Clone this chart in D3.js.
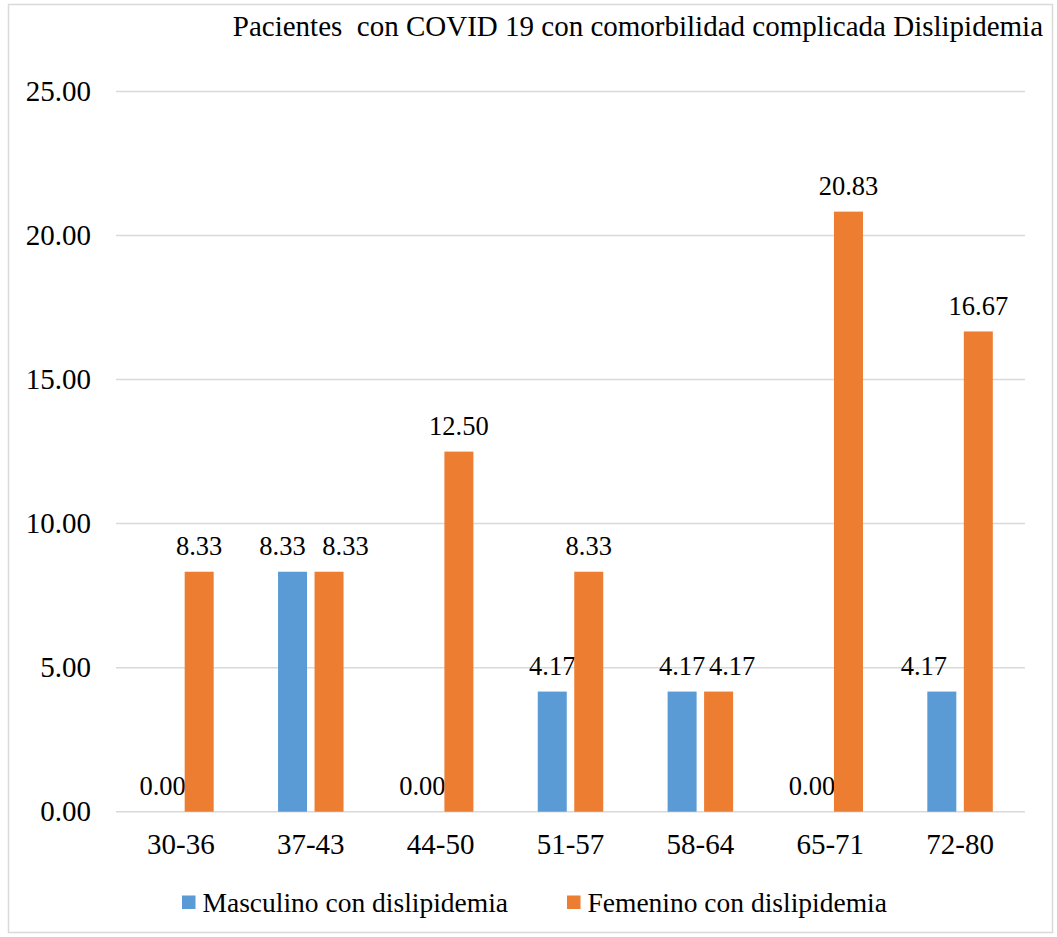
<!DOCTYPE html>
<html><head><meta charset="utf-8">
<script src="https://cdn.jsdelivr.net/npm/d3@7"></script>
<style>body{margin:0;background:#fff}svg{display:block}text{font-family:"Liberation Serif","Times New Roman",serif;fill:#000}</style>
</head><body><svg id="c" width="1057" height="937"></svg>
<script>
const categories = ["30-36","37-43","44-50","51-57","58-64","65-71","72-80"];
const masculino = [0, 8.33, 0, 4.17, 4.17, 0, 4.17];
const femenino = [8.33, 8.33, 12.50, 8.33, 4.17, 20.83, 16.67];
const yTicks = [0, 5, 10, 15, 20, 25];
const seriesNames = ["Masculino con dislipidemia", "Femenino con dislipidemia"];
const colors = ["#5B9BD5", "#ED7D31"];
const title = "Pacientes\u00a0 con COVID 19 con comorbilidad complicada Dislipidemia";

(function(){
// layout: manual data-label nudges (px) as placed in the original chart
const labelNudge = [
  {"37-43": -10, "72-80": -18},
  {"37-43": 16.5, "58-64": 13.5}
];
const svg = d3.select("#c");
svg.append("rect").attr("x",8.5).attr("y",4.5).attr("width",1044).attr("height",928)
  .attr("fill","#fff").attr("stroke","#d9d9d9").attr("stroke-width",1.5);

const pl = 116, pr = 1025, pt = 91.5, pb = 811.7;
const x = d3.scaleBand().domain(categories).range([pl, pr]);
const y = d3.scaleLinear().domain([0, 25]).range([pb, pt]);
const barW = 29, gap = 7.5;

svg.append("text").attr("x", 1043).attr("y", 36).attr("text-anchor","end")
  .style("font-size","29px").text(title);

svg.append("g").selectAll("line").data(yTicks).join("line")
  .attr("x1", pl).attr("x2", pr).attr("y1", d=>y(d)).attr("y2", d=>y(d))
  .attr("stroke","#d9d9d9").attr("stroke-width",1.5);

const yAxis = d3.axisLeft(y).tickValues(yTicks).tickFormat(d3.format(".2f")).tickSize(0).tickPadding(25);
const ya = svg.append("g").attr("transform",`translate(${pl},0)`).call(yAxis);
ya.select(".domain").remove();
ya.selectAll("text").style("font-size","29px").style("font-family","Liberation Serif");

const xAxis = d3.axisBottom(x).tickSize(0).tickPadding(22);
const xa = svg.append("g").attr("transform",`translate(0,${pb})`).call(xAxis);
xa.select(".domain").remove();
xa.selectAll("text").style("font-size","29px").style("font-family","Liberation Serif");

const series = [masculino, femenino];
series.forEach((vals, si) => {
  const off = si === 0 ? -(gap/2 + barW) : gap/2;
  const cx = d => x(d.c) + x.bandwidth()/2 + off;
  const data = categories.map((c,i)=>({c, v: vals[i]}));
  svg.append("g").selectAll("rect").data(data).join("rect")
    .attr("x", d=>cx(d)).attr("y", d=>y(d.v)).attr("width", barW)
    .attr("height", d=>pb - y(d.v)).attr("fill", colors[si]);
  svg.append("g").selectAll("text").data(data).join("text")
    .attr("x", d=>cx(d)+barW/2 + (labelNudge[si][d.c] || 0)).attr("y", d=>y(d.v)-16.5)
    .attr("text-anchor","middle").style("font-size","26.5px")
    .text(d=>d3.format(".2f")(d.v));
});

const legend = svg.append("g");
const lx = [182, 567];
seriesNames.forEach((n,i)=>{
  legend.append("rect").attr("x", lx[i]).attr("y", 895.5).attr("width",13.5).attr("height",13.5).attr("fill", colors[i]);
  legend.append("text").attr("x", lx[i]+20.5).attr("y", 911.5).style("font-size","27.5px").text(n);
});
})();
</script></body></html>
